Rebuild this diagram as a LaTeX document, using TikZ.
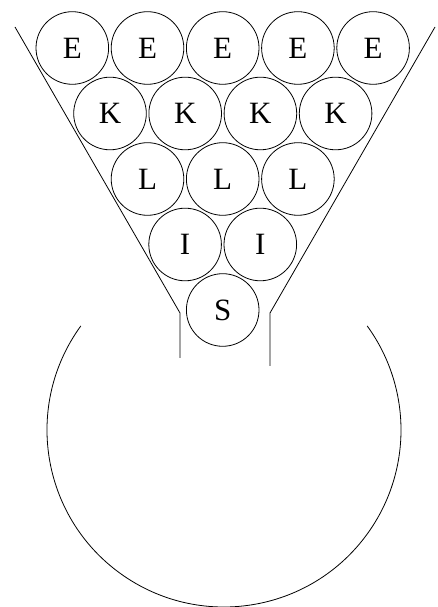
\documentclass[tikz,border=0pt]{standalone}
\usepackage{fontspec}
\setmainfont{Liberation Serif}
\begin{document}
\begin{tikzpicture}[x=1pt,y=1pt,
  ball/.style={draw,circle,minimum size=72.6pt,inner sep=0pt,line width=0.8pt,font=\fontsize{31}{31}\selectfont},
  wall/.style={line width=0.8pt}]
\useasboundingbox (0,0) rectangle (438,607);
% row E
\foreach \i/\x in {1/72.3,2/147.5,3/222.7,4/297.9,5/373.1}
  \node[ball] (e\i) at (\x,559) {E};
\foreach \i/\x in {1/110,2/185.2,3/260.4,4/335.6}
  \node[ball] (k\i) at (\x,493.5) {K};
\foreach \i/\x in {1/147.5,2/222.7,3/297.9}
  \node[ball] (l\i) at (\x,428) {L};
\foreach \i/\x in {1/185.1,2/260.3}
  \node[ball] (i\i) at (\x,362.5) {I};
\node[ball] (s) at (222.7,297) {S};
% funnel
\draw[wall] (15,580) -- (180,294) -- (180,249);
\draw[wall] (435,580) -- (270,294) -- (270,241);
% big arc
\draw[wall] (224,177) ++(144:177) arc[start angle=144,end angle=396,radius=177];
\end{tikzpicture}
\end{document}
